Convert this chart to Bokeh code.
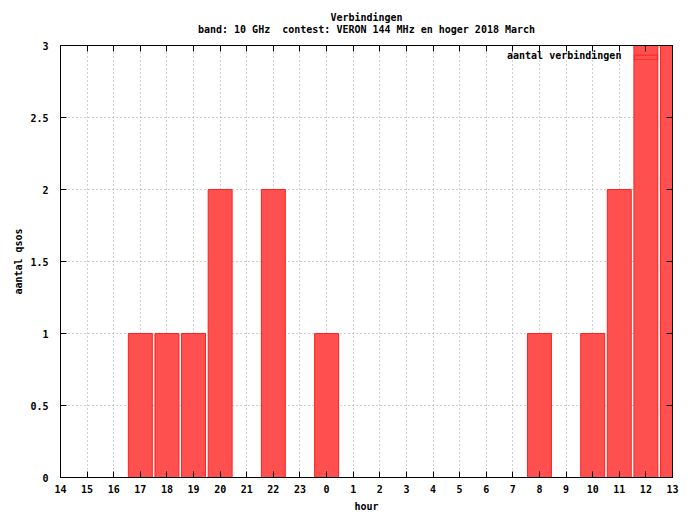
from bokeh.plotting import figure
from bokeh.models import (Range1d, FixedTicker, CustomJSTickFormatter, LinearAxis, Title,
                          Legend, LegendItem, Label, ColumnDataSource)
from bokeh.embed import file_html
from bokeh.resources import INLINE

# ---- data ----
hours = [14, 15, 16, 17, 18, 19, 20, 21, 22, 23, 0, 1, 2, 3, 4, 5, 6, 7, 8, 9, 10, 11, 12, 13]
qsos = [0, 0, 0, 1, 1, 1, 2, 0, 2, 0, 1, 0, 0, 0, 0, 0, 0, 0, 1, 0, 1, 2, 3, 3]
y_ticks = [0, 0.5, 1, 1.5, 2, 2.5, 3]
title_main = "Verbindingen"
title_sub = "band: 10 GHz\u00a0 contest: VERON 144 MHz en hoger 2018 March"
series_name = "aantal verbindingen"
x_label = "hour"
y_label = "aantal qsos"

pos = list(range(len(hours)))
hour_labels = [str(h) for h in hours]
src = ColumnDataSource(dict(x=pos, top=qsos))

FONT = "DejaVu Sans Mono"
FS = "10px"

p = figure(width=695, height=514, output_backend="svg", toolbar_location=None, title=None,
           x_range=Range1d(0, len(hours) - 1), y_range=Range1d(0, max(y_ticks)),
           min_border_left=60, min_border_right=23, min_border_top=45, min_border_bottom=36)
p.outline_line_color = "black"
p.outline_line_width = 1
p.background_fill_color = "white"
p.border_fill_color = "white"

bars = p.vbar(x="x", top="top", width=0.9, source=src,
              fill_color="#ff5050", line_color="#ff2020", line_width=1)

def style_axis(ax):
    ax.major_tick_in = 6
    ax.major_tick_out = 0
    ax.minor_tick_line_color = None
    ax.axis_line_color = "black"
    ax.major_tick_line_color = "black"
    ax.major_label_text_font = FONT
    ax.major_label_text_font_size = FS
    ax.major_label_text_font_style = "bold"
    ax.major_label_text_color = "black"
    ax.axis_label_text_font = FONT
    ax.axis_label_text_font_size = FS
    ax.axis_label_text_font_style = "bold"
    ax.axis_label_text_color = "black"

xa = p.xaxis[0]
xa.ticker = FixedTicker(ticks=pos)
xa.formatter = CustomJSTickFormatter(args=dict(labels=hour_labels),
                                     code="return labels[Math.round(tick)];")
xa.axis_label = x_label
style_axis(xa)
xa.major_label_standoff = 7
xa.axis_label_standoff = 5

ya = p.yaxis[0]
ya.ticker = FixedTicker(ticks=y_ticks)
ya.formatter = CustomJSTickFormatter(code="return String(tick);")
ya.axis_label = y_label
style_axis(ya)
ya.major_label_standoff = 12
ya.axis_label_standoff = 3

blank = CustomJSTickFormatter(code="return '';")
top_ax = LinearAxis(ticker=FixedTicker(ticks=pos), formatter=blank, axis_label=title_sub)
style_axis(top_ax)
top_ax.major_label_standoff = 0
top_ax.axis_label_standoff = 11
right_ax = LinearAxis(ticker=FixedTicker(ticks=y_ticks), formatter=blank)
style_axis(right_ax)
right_ax.major_label_standoff = 0
p.add_layout(right_ax, "right")
p.add_layout(top_ax, "above")

t_main = Title(text=title_main, align="center", text_font=FONT, text_font_size=FS,
               text_font_style="bold", text_color="black", standoff=-5, offset=0)
p.add_layout(t_main, "above")

p.xgrid.ticker = FixedTicker(ticks=pos)
p.ygrid.ticker = FixedTicker(ticks=y_ticks)
for g in (p.xgrid, p.ygrid):
    g.grid_line_color = "#a0a0a0"
    g.grid_line_dash = "1 3"
    g.grid_line_width = 1

legend = Legend(items=[LegendItem(label=" ", renderers=[bars])], location=(571, 417),
                border_line_color=None, background_fill_alpha=0, glyph_width=29, glyph_height=6,
                padding=0, margin=0, label_standoff=0, label_height=6, label_width=0, spacing=0,
                label_text_font=FONT, label_text_font_size="6px")
p.add_layout(legend)

key_text = Label(x=21.08, y=2.93, text=series_name, text_align="right", text_baseline="middle",
                 text_font=FONT, text_font_size=FS, text_font_style="bold", text_color="black")
p.add_layout(key_text)

open("out.html", "w").write(file_html(p, INLINE))
